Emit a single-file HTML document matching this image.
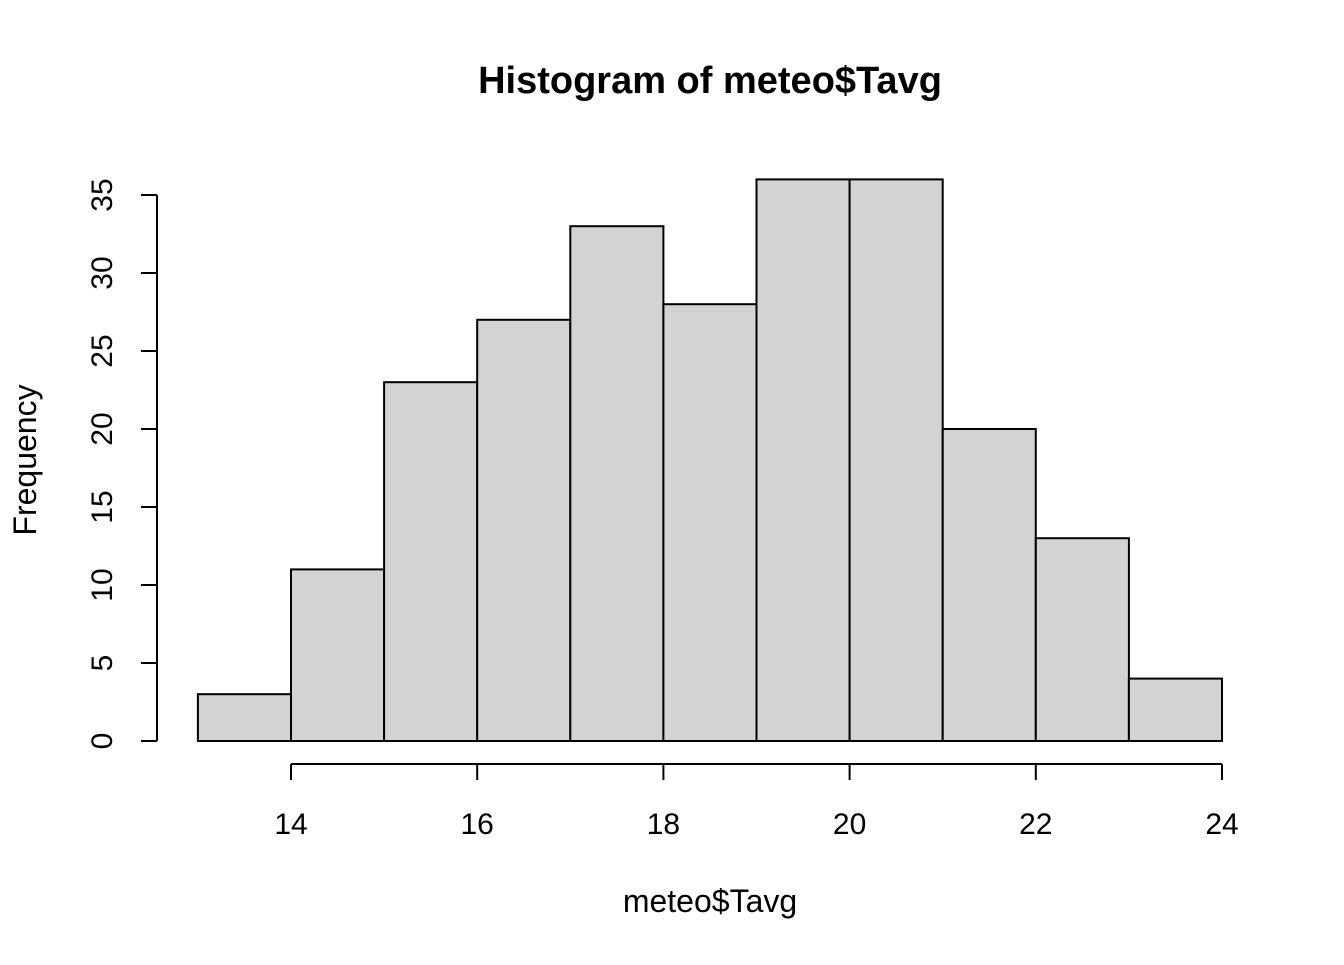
<!DOCTYPE html>
<html><head><meta charset="utf-8"><style>
html,body{margin:0;padding:0;background:#fff;}
svg text{font-family:"Liberation Sans",Arial,sans-serif;fill:#000;}
</style></head><body>
<svg id="chart" width="1344" height="960" xmlns="http://www.w3.org/2000/svg">
<rect width="1344" height="960" fill="#fff"/>
<text x="710" y="93" text-anchor="middle" font-size="38" font-weight="bold">Histogram of meteo$Tavg</text>
<text x="710" y="912" text-anchor="middle" font-size="32">meteo$Tavg</text>
<text x="0" y="0" transform="translate(36,460) rotate(-90)" text-anchor="middle" font-size="32">Frequency</text>
<g id="bars"></g>
<g id="xaxis"></g>
<g id="yaxis"></g>
</svg>
<script>
const breaks = [13,14,15,16,17,18,19,20,21,22,23,24];
const counts = [3,11,23,27,33,28,36,36,20,13,4];
const xTicks = [14,16,18,20,22,24];
const yTicks = [0,5,10,15,20,25,30,35];
const NS = "http://www.w3.org/2000/svg";
const sx = v => 291 + (v - 14) * (1222 - 291) / 10;
const sy = v => 741 - v * (741 - 195) / 35;
function mk(tag, attrs, parent){const e=document.createElementNS(NS,tag);for(const k in attrs)e.setAttribute(k,attrs[k]);parent.appendChild(e);return e;}
const bars=document.getElementById('bars'), xa=document.getElementById('xaxis'), ya=document.getElementById('yaxis');
counts.forEach((c,i)=>{
  const x0=sx(breaks[i]), x1=sx(breaks[i+1]);
  const r=mk('rect',{x:x0,y:sy(c),width:x1-x0,height:sy(0)-sy(c),fill:'#d3d3d3',stroke:'#000','stroke-width':2},bars);
  
  
});
const xl=mk('line',{x1:sx(xTicks[0]),x2:sx(xTicks[xTicks.length-1]),y1:764,y2:764,stroke:'#000','stroke-width':2},xa);


xTicks.forEach(t=>{
  const l=mk('line',{x1:sx(t),x2:sx(t),y1:764,y2:780,stroke:'#000','stroke-width':2},xa);
  
  
  const tx=mk('text',{x:sx(t),y:834,'text-anchor':'middle','font-size':30},xa);
  tx.textContent=t;
  
  
});
const yl=mk('line',{x1:157,x2:157,y1:sy(yTicks[0]),y2:sy(yTicks[yTicks.length-1]),stroke:'#000','stroke-width':2},ya);


yTicks.forEach(t=>{
  const l=mk('line',{x1:141,x2:157,y1:sy(t),y2:sy(t),stroke:'#000','stroke-width':2},ya);
  
  
  const tx=mk('text',{x:0,y:0,transform:'translate(112,'+sy(t)+') rotate(-90)','text-anchor':'middle','font-size':30},ya);
  tx.textContent=t;
  
  
});
</script>
</body></html>
